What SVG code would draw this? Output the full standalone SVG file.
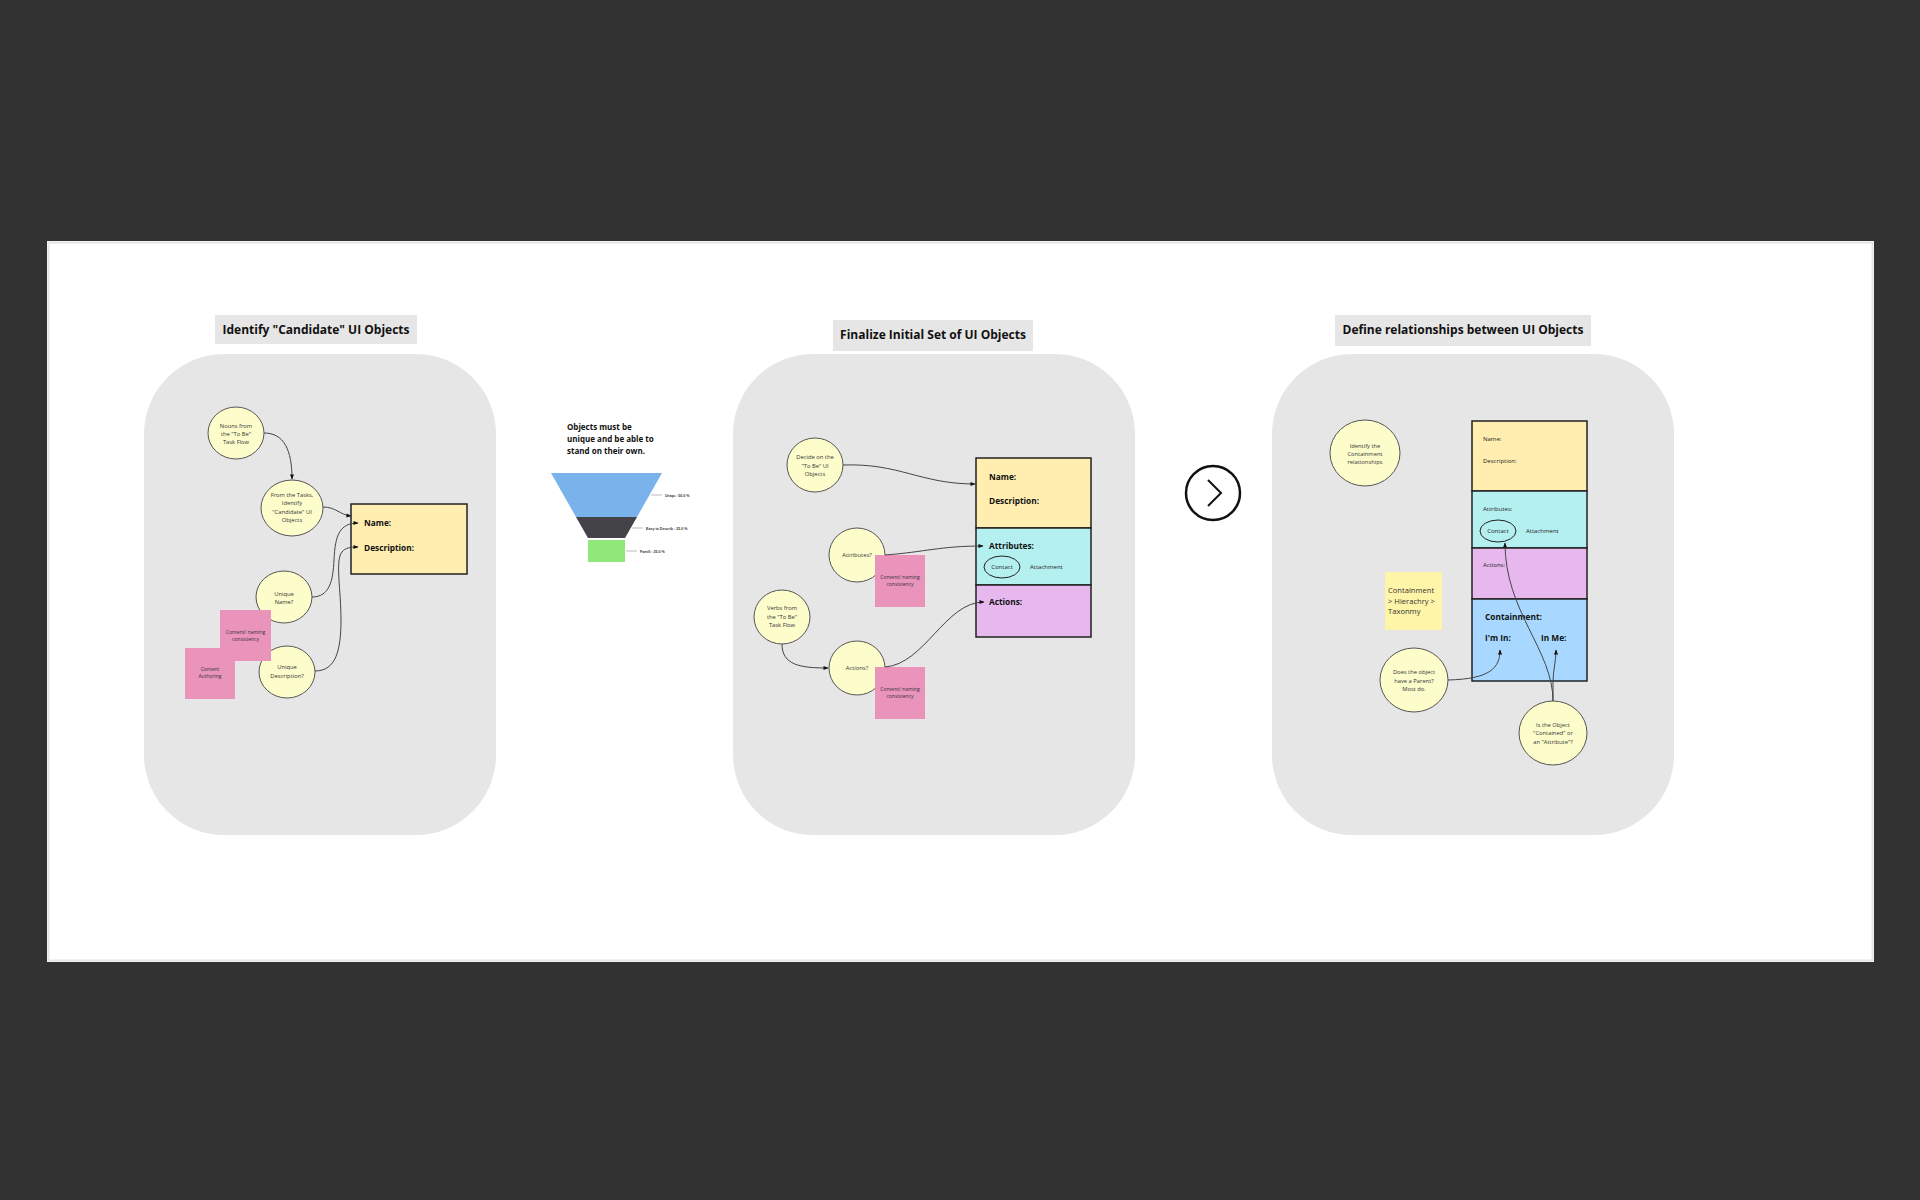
<svg xmlns="http://www.w3.org/2000/svg" width="1920" height="1200" viewBox="0 0 1920 1200">
<defs>
<marker id="arr" viewBox="0 0 10 10" refX="9" refY="5" markerWidth="6" markerHeight="5" markerUnits="userSpaceOnUse" orient="auto">
<path d="M0,1 L10,5 L0,9 z" fill="#111"/>
</marker>
<style>
.panel{fill:#e6e6e6}
.title{fill:#e6e6e6}
.tt{font-family:"Open Sans","Liberation Sans",sans-serif;font-weight:bold;font-size:12px;fill:#111;text-anchor:middle}
.circ{fill:#fdfdcc;stroke:#555;stroke-width:1}
.ct{font-family:"Open Sans","Liberation Sans",sans-serif;font-size:5.8px;fill:#333;text-anchor:middle}
.pink{fill:#ea93bb}
.pt{font-family:"Open Sans","Liberation Sans",sans-serif;font-size:5px;fill:#333;text-anchor:middle}
.box{stroke:#222;stroke-width:1.5}
.bl{font-family:"Open Sans","Liberation Sans",sans-serif;font-weight:bold;font-size:8.3px;fill:#111}
.sl{font-family:"Open Sans","Liberation Sans",sans-serif;font-size:6px;fill:#222}
.nt{font-family:"Open Sans","Liberation Sans",sans-serif;font-size:7.6px;fill:#333}
.conn{fill:none;stroke:#444;stroke-width:1}
.fl{font-family:"Liberation Sans",sans-serif;font-weight:bold;font-size:3.6px;fill:#333}
</style>
</defs>
<rect x="0" y="0" width="1920" height="1200" fill="#323232"/>
<rect x="47" y="241" width="1827" height="721" fill="#ffffff"/>
<rect x="48.5" y="242.5" width="1824" height="718" fill="none" stroke="#e4e4e4" stroke-width="2"/>

<!-- Panel 1 -->
<g id="panel1">
<rect class="title" x="215" y="315" width="202" height="29"/>
<text class="tt" x="316" y="334">Identify "Candidate" UI Objects</text>
<rect class="panel" x="144" y="354" width="352" height="481" rx="80" ry="80"/>
</g>
<g id="nouns"><ellipse class="circ" cx="236" cy="433" rx="28" ry="26"/>
<text class="ct"><tspan x="236" y="428">Nouns from</tspan><tspan x="236" y="436">the "To Be"</tspan><tspan x="236" y="444">Task Flow</tspan></text></g>
<g id="fromTasks"><ellipse class="circ" cx="292" cy="508" rx="31" ry="28"/>
<text class="ct"><tspan x="292" y="497">From the Tasks,</tspan><tspan x="292" y="505">Identify</tspan><tspan x="292" y="514">"Candidate" UI</tspan><tspan x="292" y="522">Objects</tspan></text></g>
<g id="box1"><rect class="box" x="351" y="504" width="116" height="70" fill="#ffeeb0"/>
<text class="bl" x="364" y="526">Name:</text><text class="bl" x="364" y="551">Description:</text></g>
<g id="uniqueName"><ellipse class="circ" cx="284" cy="597" rx="28" ry="26"/>
<text class="ct"><tspan x="284" y="596">Unique</tspan><tspan x="284" y="604">Name?</tspan></text></g>
<g id="uniqueDesc"><ellipse class="circ" cx="287" cy="672" rx="28" ry="26"/>
<text class="ct"><tspan x="287" y="669">Unique</tspan><tspan x="287" y="678">Description?</tspan></text></g>
<g id="note1"><rect class="pink" x="220" y="610" width="51" height="51"/>
<text class="pt"><tspan x="245.5" y="634">Content/ naming</tspan><tspan x="245.5" y="641">consistency</tspan></text></g>
<g id="note2"><rect class="pink" x="185" y="648" width="50" height="51"/>
<text class="pt"><tspan x="210" y="671">Content</tspan><tspan x="210" y="678">Authoring</tspan></text></g>

<!-- Funnel -->
<g id="funnel">
<text class="bl" style="font-size:8px"><tspan x="567" y="430">Objects must be</tspan><tspan x="567" y="442">unique and be able to</tspan><tspan x="567" y="454">stand on their own.</tspan></text>
<polygon points="551,473 662,473 637,517 576,517" fill="#7ab3ec"/>
<polygon points="576,517 637,517 625,538 588,538" fill="#444448"/>
<rect x="588" y="540" width="37" height="22" fill="#8fe879"/>
<line x1="651" y1="495" x2="662" y2="495" stroke="#aaa" stroke-width="0.8"/>
<text class="fl" x="665" y="497">Uniqu : 50.0 %</text>
<line x1="632" y1="528" x2="643" y2="528" stroke="#aaa" stroke-width="0.8"/>
<text class="fl" x="646" y="530">Easy to Describ : 25.0 %</text>
<line x1="626" y1="551" x2="637" y2="551" stroke="#aaa" stroke-width="0.8"/>
<text class="fl" x="640" y="553">Famili : 25.0 %</text>
</g>

<!-- Panel 2 -->
<g id="panel2">
<rect class="title" x="833" y="320" width="200" height="31"/>
<text class="tt" x="933" y="339">Finalize Initial Set of UI Objects</text>
<rect class="panel" x="733" y="354" width="402" height="481" rx="80" ry="80"/>
</g>
<g id="decide"><ellipse class="circ" cx="815" cy="465" rx="28" ry="27"/>
<text class="ct"><tspan x="815" y="459">Decide on the</tspan><tspan x="815" y="468">"To Be" UI</tspan><tspan x="815" y="476">Objects</tspan></text></g>
<g id="box2">
<rect class="box" x="976" y="458" width="115" height="70" fill="#ffeeb0"/>
<rect class="box" x="976" y="528" width="115" height="57" fill="#b4f0f0"/>
<rect class="box" x="976" y="585" width="115" height="52" fill="#e6b8ee"/>
<text class="bl" x="989" y="480">Name:</text><text class="bl" x="989" y="504">Description:</text>
<text class="bl" x="989" y="549">Attributes:</text>
<ellipse cx="1002" cy="567" rx="18" ry="11" fill="none" stroke="#222" stroke-width="1"/>
<text class="sl" x="1002" y="569" text-anchor="middle">Contact</text>
<text class="sl" x="1030" y="569">Attachment</text>
<text class="bl" x="989" y="605">Actions:</text>
</g>
<g id="attrQ"><ellipse class="circ" cx="857" cy="555" rx="28" ry="27"/>
<text class="ct" x="857" y="557">Attributes?</text></g>
<g id="note3"><rect class="pink" x="875" y="555" width="50" height="52"/>
<text class="pt"><tspan x="900" y="579">Content/ naming</tspan><tspan x="900" y="586">consistency</tspan></text></g>
<g id="verbs"><ellipse class="circ" cx="782" cy="617" rx="28" ry="27"/>
<text class="ct"><tspan x="782" y="610">Verbs from</tspan><tspan x="782" y="619">the "To Be"</tspan><tspan x="782" y="627">Task Flow</tspan></text></g>
<g id="actQ"><ellipse class="circ" cx="857" cy="668" rx="28" ry="27"/>
<text class="ct" x="857" y="670">Actions?</text></g>
<g id="note4"><rect class="pink" x="875" y="667" width="50" height="52"/>
<text class="pt"><tspan x="900" y="691">Content/ naming</tspan><tspan x="900" y="698">consistency</tspan></text></g>

<!-- Chevron -->
<g id="next">
<circle cx="1213" cy="493" r="27" fill="none" stroke="#111" stroke-width="2.5"/>
<polyline points="1208,480 1221,493 1208,506" fill="none" stroke="#111" stroke-width="2"/>
</g>

<!-- Panel 3 -->
<g id="panel3">
<rect class="title" x="1335" y="315" width="256" height="31"/>
<text class="tt" x="1463" y="334">Define relationships between UI Objects</text>
<rect class="panel" x="1272" y="354" width="402" height="481" rx="80" ry="80"/>
</g>
<g id="identify"><ellipse class="circ" cx="1365" cy="453" rx="35" ry="33"/>
<text class="ct"><tspan x="1365" y="448">Identify the</tspan><tspan x="1365" y="456">Containment</tspan><tspan x="1365" y="464">relationships</tspan></text></g>
<g id="box3">
<rect class="box" x="1472" y="421" width="115" height="70" fill="#ffeeb0"/>
<rect class="box" x="1472" y="491" width="115" height="57" fill="#b4f0f0"/>
<rect class="box" x="1472" y="548" width="115" height="51" fill="#e6b8ee"/>
<rect class="box" x="1472" y="599" width="115" height="82" fill="#a8d8ff"/>
<text class="sl" x="1483" y="441">Name:</text><text class="sl" x="1483" y="463">Description:</text>
<text class="sl" x="1483" y="511">Attributes:</text>
<ellipse cx="1498" cy="531" rx="18" ry="11" fill="none" stroke="#222" stroke-width="1"/>
<text class="sl" x="1498" y="533" text-anchor="middle">Contact</text>
<text class="sl" x="1526" y="533">Attachment</text>
<text class="sl" x="1483" y="567">Actions:</text>
<text class="bl" x="1485" y="620">Containment:</text>
<text class="bl" x="1485" y="641">I'm In:</text>
<text class="bl" x="1541" y="641">In Me:</text>
</g>
<g id="note5"><rect x="1385" y="572" width="57" height="58" fill="#fff5a8"/>
<text class="nt"><tspan x="1388" y="593">Containment</tspan><tspan x="1388" y="604">&gt; Hierachry &gt;</tspan><tspan x="1388" y="614">Taxonmy</tspan></text></g>
<g id="parent"><ellipse class="circ" cx="1414" cy="680" rx="34" ry="32"/>
<text class="ct"><tspan x="1414" y="674">Does the object</tspan><tspan x="1414" y="683">have a Parent?</tspan><tspan x="1414" y="691">Most do.</tspan></text></g>
<g id="contained"><ellipse class="circ" cx="1553" cy="733" rx="34" ry="32"/>
<text class="ct"><tspan x="1553" y="727">Is the Object</tspan><tspan x="1553" y="735">"Contained" or</tspan><tspan x="1553" y="744">an "Attribute"?</tspan></text></g>

<g id="connectors">
<path class="conn" d="M264,433 C284,433 292,450 292,479" marker-end="url(#arr)"/>
<path class="conn" d="M323,507 C336,507 340,515 351,516" marker-end="url(#arr)"/>
<path class="conn" d="M312,597 C330,597 333,580 334,560 C335,535 340,523 358,523" marker-end="url(#arr)"/>
<path class="conn" d="M315,671 C336,671 341,650 341,620 C341,590 335,560 342,552 C345,548 350,547 358,547" marker-end="url(#arr)"/>
<path class="conn" d="M843,465 C900,463 920,484 975,484" marker-end="url(#arr)"/>
<path class="conn" d="M885,555 C925,552 940,546 983,546" marker-end="url(#arr)"/>
<path class="conn" d="M782,644 C782,665 800,668 828,668" marker-end="url(#arr)"/>
<path class="conn" d="M885,667 C925,664 945,602 984,602" marker-end="url(#arr)"/>
<path class="conn" d="M1448,680 C1490,679 1500,668 1500,650" marker-end="url(#arr)"/>
<path class="conn" d="M1553,701 L1553,682 C1553,670 1556,662 1556,650" marker-end="url(#arr)"/>
<path class="conn" d="M1553,701 C1553,650 1505,612 1505,543" marker-end="url(#arr)"/>
</g>
</svg>
